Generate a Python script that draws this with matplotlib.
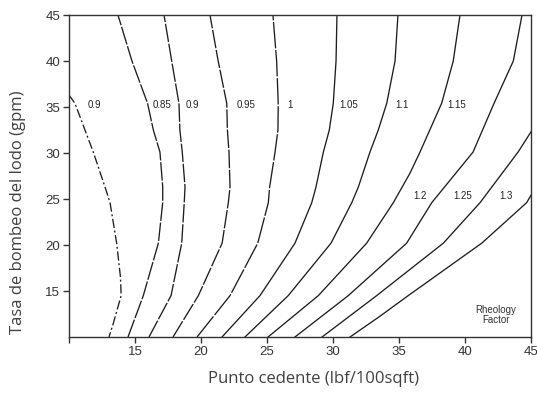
import matplotlib
matplotlib.use("Agg")
import matplotlib.pyplot as plt

# ---- data (x = yield point, y = flow rate) ----
rf_090_left_y = [36.3, 35.4, 32.5, 30.1, 26.3, 24.6, 20.2, 16.5, 14.5, 11.5, 10.0]
rf_090_left_x = [10.0, 10.45, 11.21, 11.84, 12.73, 13.11, 13.61, 13.90, 13.95, 13.36, 13.03]

rf_085_y = [10, 14.5, 20.2, 24.6, 26.3, 30.1, 32.5, 35.4, 40, 45]
rf_085_x = [14.47, 15.63, 16.77, 17.10, 17.10, 16.89, 16.39, 15.95, 14.77, 13.71]

rf_090_y = [10, 14.5, 20.2, 24.6, 26.3, 30.1, 32.5, 35.4, 40, 45]
rf_090_x = [16.06, 17.73, 18.54, 18.73, 18.79, 18.58, 18.40, 18.33, 17.78, 17.20]

rf_095_y = [10, 14.5, 20.2, 24.6, 26.3, 30.1, 32.5, 35.4, 40, 45]
rf_095_x = [17.88, 19.80, 21.60, 22.07, 22.20, 22.12, 22.00, 21.95, 21.30, 20.68]

rf_100_y = [10, 14.5, 20.2, 24.6, 26.3, 30.1, 32.5, 35.4, 40, 45]
rf_100_x = [19.70, 22.20, 24.30, 25.10, 25.20, 25.61, 25.83, 25.85, 25.73, 25.45]

rf_105_y = [10, 14.5, 20.2, 24.6, 26.3, 30.1, 32.5, 35.4, 40, 45]
rf_105_x = [21.59, 24.47, 27.12, 28.39, 28.71, 29.27, 29.72, 30.02, 30.23, 30.30]

rf_110_y = [10, 14.5, 20.2, 24.6, 26.3, 30.1, 32.5, 35.4, 40, 45]
rf_110_x = [23.33, 26.61, 29.85, 31.42, 31.92, 32.80, 33.43, 34.07, 34.70, 34.92]

rf_115_y = [10, 14.5, 20.2, 24.6, 27.8, 30.1, 35.4, 40, 45]
rf_115_x = [25.08, 28.89, 32.55, 34.57, 35.83, 36.59, 38.23, 39.11, 39.62]

rf_120_y = [10, 14.5, 20.2, 24.6, 30.1, 35.4, 40, 45]
rf_120_x = [27.12, 31.16, 35.58, 37.48, 40.61, 42.20, 43.66, 44.32]

rf_125_y = [10, 14.5, 20.2, 24.6, 30.1, 32.3]
rf_125_x = [29.17, 33.31, 38.36, 41.14, 44.02, 45.0]

rf_130_y = [10, 12.2, 14.5, 20.2, 24.6, 25.4]
rf_130_x = [31.29, 33.50, 35.70, 41.27, 44.67, 45.0]

upper_labels = ["0.9", "0.85", "0.9", "0.95", "1", "1.05", "1.1", "1.15"]
upper_label_x = [11.9, 17.07, 19.32, 23.43, 26.72, 31.21, 35.23, 39.37]
upper_label_y = 35.2
lower_labels = ["1.2", "1.25", "1.3"]
lower_label_x = [36.59, 39.80, 43.08]
lower_label_y = 25.3

x_ticks = [10, 15, 20, 25, 30, 35, 40, 45]
x_tick_labels = ["", "15", "20", "25", "30", "35", "40", "45"]
y_ticks = [15, 20, 25, 30, 35, 40, 45]

# ---- figure ----
fig = plt.figure(figsize=(5.37, 3.95), dpi=100)
ax = fig.add_axes([69/537, 1-337/395, (531-69)/537, (337-15)/395])

lc = "#1e1e1e"
lw = 0.95
broken = (0, (14, 1.3))
ax.plot(rf_090_left_x, rf_090_left_y, color=lc, lw=lw, ls=(0, (7, 2, 1.5, 2)))
ax.plot(rf_085_x, rf_085_y, color=lc, lw=lw, ls=broken)
ax.plot(rf_090_x, rf_090_y, color=lc, lw=lw, ls=broken)
ax.plot(rf_095_x, rf_095_y, color=lc, lw=lw, ls=broken)
ax.plot(rf_100_x, rf_100_y, color=lc, lw=lw, ls=(0, (20, 1.3)))
ax.plot(rf_105_x, rf_105_y, color=lc, lw=lw)
ax.plot(rf_110_x, rf_110_y, color=lc, lw=lw)
ax.plot(rf_115_x, rf_115_y, color=lc, lw=lw)
ax.plot(rf_120_x, rf_120_y, color=lc, lw=lw)
ax.plot(rf_125_x, rf_125_y, color=lc, lw=lw)
ax.plot(rf_130_x, rf_130_y, color=lc, lw=lw)

lab_font = dict(family="Liberation Sans", fontsize=7, color="#222222",
                ha="center", va="center")
for t, x in zip(upper_labels, upper_label_x):
    ax.text(x, upper_label_y, t, **lab_font)
for t, x in zip(lower_labels, lower_label_x):
    ax.text(x, lower_label_y, t, **lab_font)
ax.text(42.35, 12.35, "Rheology\nFactor", family="Liberation Sans", fontsize=7,
        color="#333333", ha="center", va="center", linespacing=1.0)

ax.set_xlim(10, 45)
ax.set_ylim(10, 45)
ax.set_xticks(x_ticks)
ax.set_xticklabels(x_tick_labels)
ax.set_yticks(y_ticks)
ax.tick_params(axis="both", direction="out", length=4, width=1, color="#333333",
               labelsize=9.5, labelcolor="#333333", pad=2.5)
for lab in ax.get_xticklabels() + ax.get_yticklabels():
    lab.set_family("Liberation Sans")
for s in ax.spines.values():
    s.set_color("#333333")
    s.set_linewidth(1.0)

ax.set_xlabel("Punto cedente (lbf/100sqft)", family="Open Sans", fontsize=12,
              color="#404040")
ax.set_ylabel("Tasa de bombeo del lodo (gpm)", family="Open Sans", fontsize=12,
              color="#404040")
ax.xaxis.set_label_coords(0.53, -0.107)
ax.yaxis.set_label_coords(-0.092, 0.388)

fig.savefig("out.png", dpi=100)
